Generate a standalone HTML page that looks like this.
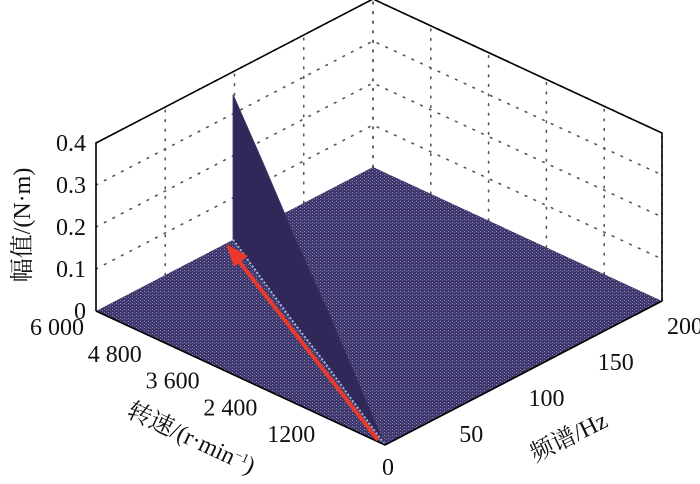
<!DOCTYPE html>
<html><head><meta charset="utf-8"><style>
html,body{margin:0;padding:0;background:#fff;}
svg{display:block;font-family:"Liberation Serif","Noto Serif CJK SC",serif;}
</style></head><body>
<svg id="chart" width="700" height="484" viewBox="0 0 700 484">
<defs>
<pattern id="tex" width="4" height="3" patternUnits="userSpaceOnUse">
<rect width="4" height="3" fill="#3e3769"/>
<rect x="0" y="0" width="1" height="1" fill="#8b86c6"/>
<rect x="2" y="1" width="1" height="1" fill="#6f69a8"/>
</pattern>
</defs>
<g id="walls"></g>
<g id="floor"></g>
<g id="ridge"></g>
<g id="frame"></g>
<g id="labels" font-size="24" fill="#111"></g>
<text x="0" y="0" transform="translate(30,225) rotate(-90)" text-anchor="middle" font-size="24" fill="#111">幅值/(N·m)</text>
<text x="0" y="0" transform="translate(188,445) rotate(25)" text-anchor="middle" font-size="24" fill="#111">转速/(r·min<tspan font-size="13" dy="-8">−1</tspan><tspan dy="8">)</tspan></text>
<text x="0" y="0" transform="translate(572,444) rotate(-26)" text-anchor="middle" font-size="24" fill="#111">频谱/Hz</text>
<g>
<line x1="378" y1="440" x2="238" y2="260" stroke="#e8392c" stroke-width="4"/>
<polygon points="226,244 248,256 234,267" fill="#e8392c"/>
</g>
</svg>
<script>
const speedTicks=[0,1200,2400,3600,4800,6000];
const speedTickLabels=["0","1200","2 400","3 600","4 800","6 000"];
const freqTicks=[50,100,150,200];
const freqTickLabels=["50","100","150","200"];
const zTicks=[0,0.1,0.2,0.3,0.4];
const zTickLabels=["0","0.1","0.2","0.3","0.4"];
const ridgeSpeeds=[0,1200,2400,3600,4800,6000];
const ridgeFreqs=[0,20,40,59,79,99];
const ridgeAmps=[0,0.07,0.14,0.21,0.28,0.345];

const NS="http://www.w3.org/2000/svg";
const cL={x:96,y:311},cF={x:385,y:445},cB={x:373,y:167};
const zPx=420;
function P(s,f,z){
  const a=(6000-s)/6000,b=f/200;
  return {x:cL.x+a*(cF.x-cL.x)+b*(cB.x-cL.x), y:cL.y+a*(cF.y-cL.y)+b*(cB.y-cL.y)-z*zPx};
}
function el(parent,tag,attrs){const e=document.createElementNS(NS,tag);for(const k in attrs)e.setAttribute(k,attrs[k]);parent.appendChild(e);return e;}
const pts=a=>a.map(p=>p.x.toFixed(1)+","+p.y.toFixed(1)).join(" ");

const walls=document.getElementById('walls');
const dot={stroke:"#555","stroke-width":1.6,"stroke-dasharray":"1.6 8","stroke-linecap":"round",fill:"none"};
freqTicks.forEach(f=>{const a=P(6000,f,0),b=P(6000,f,0.4);
 const l=el(walls,'line',Object.assign({x1:a.x,y1:a.y,x2:b.x,y2:b.y},dot));
 
 });
speedTicks.forEach(s=>{const a=P(s,200,0),b=P(s,200,0.4);
 const l=el(walls,'line',Object.assign({x1:a.x,y1:a.y,x2:b.x,y2:b.y},dot));
 
 });
zTicks.slice(1).forEach(z=>{const a=P(6000,0,z),b=P(6000,200,z),c=P(0,200,z);
 const l=el(walls,'polyline',Object.assign({points:pts([a,b,c])},dot));
 
 });

const floorG=document.getElementById('floor');
const fl=el(floorG,'polygon',{points:pts([P(6000,0,0),P(6000,200,0),P(0,200,0),P(0,0,0)]),fill:"url(#tex)"});



const ridgeG=document.getElementById('ridge');
const ridgeTop=ridgeSpeeds.map((s,i)=>P(s,ridgeFreqs[i],ridgeAmps[i]));
const ridgeBase=ridgeSpeeds.map((s,i)=>P(s,ridgeFreqs[i],0)).reverse();
const rp=el(ridgeG,'polygon',{points:pts(ridgeTop.concat(ridgeBase)),fill:"#2f2858",stroke:"#3b3468","stroke-width":1});


const bl=el(ridgeG,'polyline',{points:pts(ridgeBase),fill:"none",stroke:"#9fb4d8","stroke-width":2,"stroke-dasharray":"2 2"});



const frameG=document.getElementById('frame');
const bk={stroke:"#000","stroke-width":1.6,fill:"none"};
[[P(6000,0,0),P(0,0,0),P(0,200,0)],[P(6000,0,0),P(6000,0,0.4),P(6000,200,0.4),P(0,200,0.4),P(0,200,0)]].forEach(a=>{
 const l=el(frameG,'polyline',Object.assign({points:pts(a)},bk));
 
 });

const lab=document.getElementById('labels');
zTicks.forEach((z,i)=>{const p=P(6000,0,z);
 const t=el(lab,'text',{x:p.x-10,y:p.y+8,"text-anchor":"end"});t.textContent=zTickLabels[i];
 
 });
speedTicks.forEach((s,i)=>{const p=P(s,0,0);
 const t=el(lab,'text',{x:s===0?p.x+3:p.x-12,y:s===0?p.y+30:p.y+24,"text-anchor":s===0?"middle":"end"});t.textContent=speedTickLabels[i];
 
 });
freqTicks.forEach((f,i)=>{const p=P(0,f,0);
 const t=el(lab,'text',{x:p.x+5,y:p.y+33,"text-anchor":"start"});t.textContent=freqTickLabels[i];
 
 });
</script>
</body></html>
